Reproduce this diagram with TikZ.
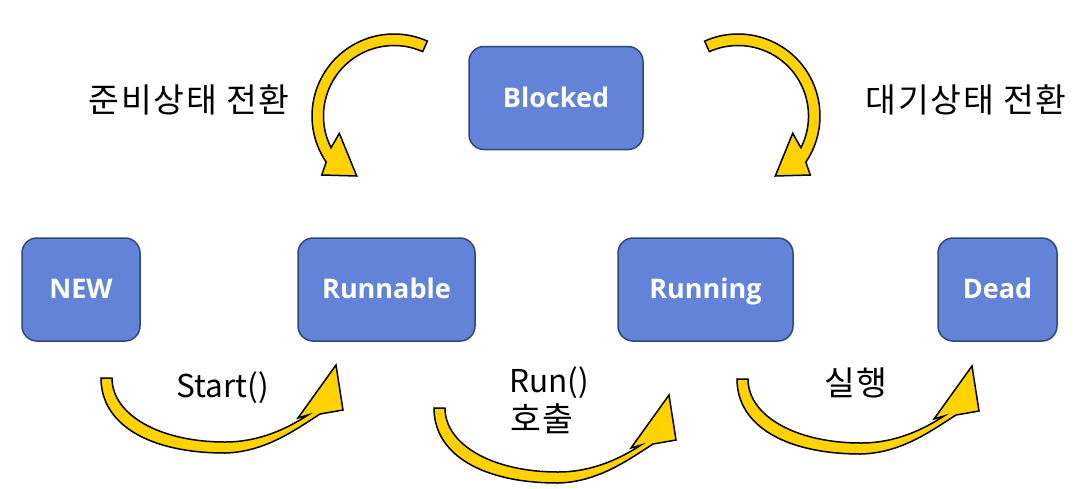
\documentclass[tikz,border=0pt]{standalone}
\usepackage{fontspec}
\setmainfont{Open Sans}
\newfontfamily\kfont[LetterSpace=5]{Noto Sans CJK KR}
\newfontfamily\lfont{Noto Sans CJK KR}
\definecolor{boxfill}{RGB}{99,131,217}
\definecolor{boxline}{RGB}{47,72,124}
\definecolor{arrowfill}{RGB}{255,210,0}
\tikzset{
  state/.style={draw=boxline, line width=1.5pt, fill=boxfill, rounded corners=15pt,
    text=white, font=\fontsize{27}{31}\selectfont\bfseries, minimum height=103pt,
    inner sep=0pt, text height=18pt, text depth=0pt},
  blockarrow/.style={draw=black, line width=1.5pt, fill=arrowfill, line join=miter},
  klbl/.style={font=\kfont\fontsize{33.5}{38}\selectfont, inner sep=0pt, text height=25pt, text depth=0pt},
  llbl/.style={font=\lfont\fontsize{31.5}{36}\selectfont, inner sep=0pt},
  botarrow/.pic={
    \draw[blockarrow] (101,-378) .. controls (101,-425) and (150,-453) .. (225,-453)
      .. controls (265,-452) and (295,-430) .. (320,-414)
      -- (343,-410) -- (336,-365) -- (298,-418) -- (308,-415)
      .. controls (288,-428) and (260,-442) .. (225,-442)
      .. controls (160,-442) and (112,-415) .. (112,-378) -- cycle;
  },
  toparrow/.pic={
    \draw[blockarrow] (427.35,-41.1) arc[start angle=66, end angle=214.2, radius=82]
      -- (321.7,-175) -- (356.7,-176) -- (339.3,-133.3) -- (331.07,-147.79)
      arc[start angle=206.8, end angle=66, radius=70.5] -- cycle;
  }
}
\begin{document}
\begin{tikzpicture}[x=1pt,y=1pt]
\useasboundingbox (0,0) rectangle (1080,-488);
% states
\node[state, minimum width=174pt] (blocked) at (556,-98) {Blocked};
\node[state, minimum width=118pt] (new) at (81,-289.5) {NEW};
\node[state, minimum width=177pt] (runnable) at (386.5,-289.5) {Runnable};
\node[state, minimum width=175pt] (running) at (705.5,-289.5) {Running};
\node[state, minimum width=119pt] (dead) at (997.5,-289.5) {Dead};
% curved block arrows
\pic at (0,0) {toparrow};
\begin{scope}[cm={-1,0,0,1,(1132pt,0pt)}]
  \pic[transform shape] at (0,0) {toparrow};
\end{scope}
\pic at (0,0) {botarrow};
\pic at (333,-30) {botarrow};
\pic at (636,-1) {botarrow};
% labels
\node[klbl] (lready) at (189,-100) {준비상태 전환};
\node[klbl] (lwait) at (966,-100) {대기상태 전환};
\node[llbl, anchor=base] (lstart) at (223,-397) {Start()};
\node[llbl, anchor=base west] (lrun) at (509,-392) {Run()};
\node[klbl, anchor=west] (lcall) at (510,-419) {호출};
\node[klbl] (lexec) at (856,-383) {실행};
\end{tikzpicture}
\end{document}
